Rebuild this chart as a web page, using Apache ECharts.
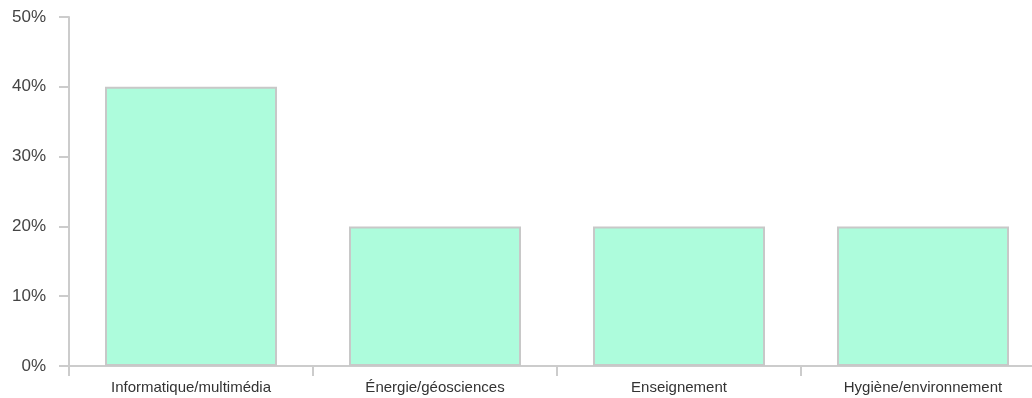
<!DOCTYPE html>
<html><head><meta charset="utf-8">
<script src="https://cdn.jsdelivr.net/npm/echarts@6/dist/echarts.min.js"></script>
<style>html,body{margin:0;padding:0;background:#fff;overflow:hidden;width:1032px;height:398px}#c{width:1045px;height:398px}</style>
</head><body><div id="c"></div>
<script>
const categories = ['Informatique/multimédia', 'Énergie/géosciences', 'Enseignement', 'Hygiène/environnement'];
const values = [40, 20, 20, 20];
const yTicks = {min: 0, max: 50, interval: 10};

const chart = echarts.init(document.getElementById('c'));
chart.setOption({
  animation: false,
  grid: {left: 69, right: 0, top: 17, bottom: 32, containLabel: false},
  xAxis: {
    type: 'category', data: categories,
    axisLine: {lineStyle: {color: '#ccc', width: 2}},
    axisTick: {show: true, length: 10, lineStyle: {color: '#ccc', width: 2}},
    axisLabel: {color: '#333', fontSize: 15, fontFamily: 'Liberation Sans, Arial, sans-serif', margin: 14}
  },
  yAxis: {
    type: 'value', min: yTicks.min, max: yTicks.max, interval: yTicks.interval,
    axisLine: {show: true, lineStyle: {color: '#ccc', width: 2}},
    axisTick: {show: true, length: 10, lineStyle: {color: '#ccc', width: 2}},
    splitLine: {show: false},
    axisLabel: {color: '#444', fontSize: 17, fontFamily: 'Liberation Sans, Arial, sans-serif', margin: 23, formatter: '{value}%'}
  },
  series: [{
    type: 'bar', data: values, barWidth: '70.5%',
    itemStyle: {color: '#adfcdc', borderColor: '#c8c8c8', borderWidth: 2}
  }]
});
</script></body></html>
